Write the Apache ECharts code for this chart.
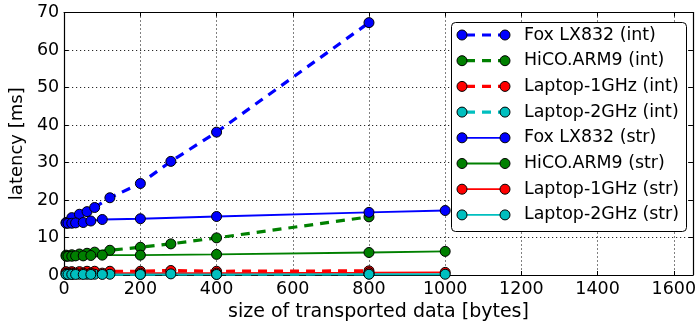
<!DOCTYPE html>
<html>
<head>
<meta charset="utf-8">
<script src="https://cdn.jsdelivr.net/npm/echarts@6/dist/echarts.min.js"></script>
<style>
html,body{margin:0;padding:0;background:#fff;}
#chart{width:699px;height:329px;}
</style>
</head>
<body>
<div id="chart"></div>
<script>
// ---- data ----
const seriesNames = ['Fox LX832 (int)','HiCO.ARM9 (int)','Laptop-1GHz (int)','Laptop-2GHz (int)',
                     'Fox LX832 (str)','HiCO.ARM9 (str)','Laptop-1GHz (str)','Laptop-2GHz (str)'];
const xInt = [5, 20, 40, 60, 80, 120, 200, 280, 400, 800];
const xStr = [5, 10, 20, 30, 50, 70, 100, 200, 400, 800, 1000];
const foxInt    = [14.0, 15.3, 16.2, 16.9, 18.0, 20.6, 24.4, 30.3, 38.1, 67.3];
const hicoInt   = [5.3, 5.4, 5.6, 5.8, 6.1, 6.6, 7.4, 8.3, 9.9, 15.5];
const lap1Int   = [0.9, 0.9, 0.9, 1.0, 1.0, 1.0, 1.0, 1.2, 1.0, 1.1];
const lap2Int   = [0.2, 0.2, 0.2, 0.2, 0.2, 0.2, 0.2, 0.3, 0.2, 0.3];
const foxStr    = [13.8, 13.8, 13.8, 13.9, 14.0, 14.4, 14.8, 15.0, 15.6, 16.7, 17.2];
const hicoStr   = [5.0, 5.0, 5.0, 5.1, 5.1, 5.2, 5.3, 5.3, 5.5, 6.0, 6.3];
const lap1Str   = [0.5, 0.5, 0.5, 0.5, 0.5, 0.5, 0.5, 0.5, 0.5, 0.6, 0.7];
const lap2Str   = [0.15, 0.15, 0.15, 0.15, 0.15, 0.15, 0.15, 0.15, 0.15, 0.2, 0.2];
const xTicks = [0, 200, 400, 600, 800, 1000, 1200, 1400, 1600];
const yTicks = [0, 10, 20, 30, 40, 50, 60, 70];

// ---- styles ----
const colors = ['#0000ff', '#008000', '#ff0000', '#00bfbf'];
const FONT = 'DejaVu Sans';
const FS_TICK = 17.5;
const FS_LEG = 17.4;

const allY = [foxInt, hicoInt, lap1Int, lap2Int, foxStr, hicoStr, lap1Str, lap2Str];
function pairs(xs, ys) { return xs.map((x, i) => [x, ys[i]]); }

const series = allY.map((ys, i) => {
  const isInt = i < 4;
  const c = colors[i % 4];
  return {
    name: seriesNames[i],
    type: 'line',
    data: pairs(isInt ? xInt : xStr, ys),
    symbol: 'circle',
    symbolSize: 10,
    clip: true,
    animation: false,
    lineStyle: { color: c, width: isInt ? 3.2 : 1.8, type: isInt ? [9, 7] : 'solid' },
    itemStyle: { color: c, borderColor: '#000', borderWidth: 1 },
    emphasis: { disabled: true }
  };
});

// legend drawn with graphic elements
const legend = { left: 451, top: 22, w: 235, h: 209, row0: 35, step: 25.7, m1: 462, m2: 505, tx: 524 };
const g = [{
  type: 'rect', shape: { x: legend.left + 0.5, y: legend.top + 0.5, width: legend.w, height: legend.h, r: 4 },
  style: { fill: '#fff', stroke: '#000', lineWidth: 1 }, z: 100
}];
seriesNames.forEach((nm, i) => {
  const y = legend.row0 + i * legend.step;
  const isInt = i < 4;
  const c = colors[i % 4];
  g.push({ type: 'line', shape: { x1: legend.m1, y1: y, x2: legend.m2, y2: y },
    style: { stroke: c, lineWidth: isInt ? 3.2 : 1.8, lineDash: isInt ? [9, 7] : null, lineDashOffset: isInt ? -4 : 0 }, z: 101 });
  [legend.m1, legend.m2].forEach(cx => g.push({ type: 'circle', shape: { cx: cx, cy: y, r: 5 },
    style: { fill: c, stroke: '#000', lineWidth: 1 }, z: 102 }));
  g.push({ type: 'text', x: legend.tx, y: y, style: { text: nm, fill: '#000', font: FS_LEG + 'px "' + FONT + '"', verticalAlign: 'middle', align: 'left' }, z: 102 });
});

const tickCommon = { show: true, inside: true, length: 4, lineStyle: { color: '#000', width: 1 } };
const lineCommon = { show: true, onZero: false, lineStyle: { color: '#000', width: 1.2 } };

const option = {
  backgroundColor: '#fff',
  animation: false,
  textStyle: { fontFamily: FONT },
  grid: { left: 62, right: 6, top: 12.5, bottom: 54, containLabel: false },
  xAxis: [{
    type: 'value', min: 0, max: 1650, interval: 200,
    name: 'size of transported data [bytes]', nameLocation: 'middle', nameGap: 28,
    nameTextStyle: { fontFamily: FONT, fontSize: 19, color: '#000' },
    axisLine: lineCommon, axisTick: tickCommon,
    axisLabel: { color: '#000', fontFamily: FONT, fontSize: FS_TICK, margin: 5, showMaxLabel: false,
      formatter: v => xTicks.indexOf(v) >= 0 ? String(v) : '' },
    splitLine: { show: true, lineStyle: { color: '#000', width: 1, type: [1, 3] } }
  }, {
    type: 'value', min: 0, max: 1650, interval: 200, position: 'top',
    axisLine: lineCommon, axisTick: tickCommon, axisLabel: { show: false }, splitLine: { show: false }
  }],
  yAxis: [{
    type: 'value', min: 0, max: 70, interval: 10,
    name: 'latency [ms]', nameLocation: 'middle', nameGap: 36,
    nameTextStyle: { fontFamily: FONT, fontSize: 18, color: '#000' },
    axisLine: lineCommon, axisTick: tickCommon,
    axisLabel: { color: '#000', fontFamily: FONT, fontSize: FS_TICK, margin: 5,
      formatter: v => yTicks.indexOf(v) >= 0 ? String(v) : '' },
    splitLine: { show: true, lineStyle: { color: '#000', width: 1, type: [1, 3] } }
  }, {
    type: 'value', min: 0, max: 70, interval: 10, position: 'right',
    axisLine: lineCommon, axisTick: tickCommon, axisLabel: { show: false }, splitLine: { show: false }
  }],
  series: series,
  graphic: g
};

const chart = echarts.init(document.getElementById('chart'), null, { renderer: 'canvas' });
chart.setOption(option);
</script>
</body>
</html>
